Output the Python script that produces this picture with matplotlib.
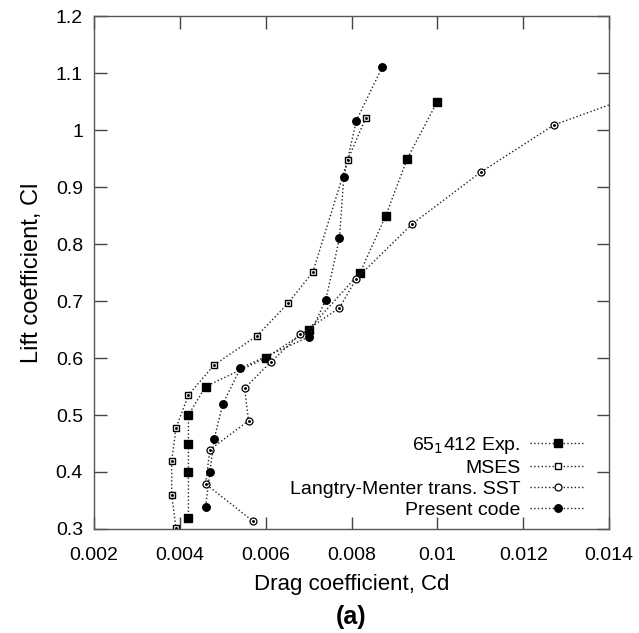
import matplotlib
matplotlib.use('Agg')
import matplotlib.pyplot as plt

plt.rcParams['font.family'] = ['Liberation Sans', 'DejaVu Sans']

# data
exp_cd = [0.0100, 0.0093, 0.0088, 0.0082, 0.0070, 0.0060, 0.0046, 0.0042, 0.0042, 0.0042, 0.0042]
exp_cl = [1.05, 0.95, 0.85, 0.75, 0.65, 0.60, 0.55, 0.50, 0.45, 0.40, 0.32]

mses_cd = [0.00833, 0.00791, 0.0071, 0.00652, 0.0058, 0.0048, 0.0042, 0.00391, 0.00381, 0.00381, 0.00391]
mses_cl = [1.021, 0.947, 0.751, 0.696, 0.639, 0.588, 0.535, 0.477, 0.419, 0.360, 0.302]

lm_cd = [0.0155, 0.01272, 0.01101, 0.00941, 0.00811, 0.00772, 0.00681, 0.00612, 0.00551, 0.0056, 0.0047, 0.0046, 0.0057]
lm_cl = [1.085, 1.009, 0.926, 0.835, 0.739, 0.688, 0.642, 0.593, 0.547, 0.490, 0.439, 0.379, 0.314]

pc_cd = [0.00872, 0.00811, 0.00782, 0.00772, 0.0074, 0.0070, 0.00541, 0.0050, 0.0048, 0.0047, 0.0046]
pc_cl = [1.111, 1.016, 0.918, 0.810, 0.702, 0.637, 0.582, 0.519, 0.458, 0.400, 0.339]

labels = ['65$_1$412 Exp.', 'MSES', 'Langtry-Menter trans. SST', 'Present code']

fig = plt.figure(figsize=(6.39, 6.33), dpi=100)
ax = fig.add_axes([0.1471, 0.1643, 0.806, 0.8104])

lkw = dict(color='#222222', ls=':', lw=1.0)
ax.plot(exp_cd, exp_cl, marker='s', ms=5.4, mfc='black', mec='black', label=labels[0], **lkw)
ax.plot(mses_cd, mses_cl, marker='s', ms=5.0, mfc='white', mec='black', mew=1.0, label=labels[1], **lkw)
ax.plot(lm_cd, lm_cl, marker='o', ms=5.0, mfc='white', mec='black', mew=0.9, label=labels[2], **lkw)
ax.plot(pc_cd, pc_cl, marker='o', ms=5.4, mfc='black', mec='black', label=labels[3], **lkw)
# small centre dots of the open symbols
ax.plot(mses_cd, mses_cl, ls='none', marker='o', ms=1.1, color='black')
ax.plot(lm_cd, lm_cl, ls='none', marker='o', ms=1.1, color='black')

ax.set_xlim(0.002, 0.014)
ax.set_ylim(0.3, 1.2)
ax.set_xticks([0.002, 0.004, 0.006, 0.008, 0.01, 0.012, 0.014])
ax.set_xticklabels(['0.002', '0.004', '0.006', '0.008', '0.01', '0.012', '0.014'])
ax.set_yticks([0.3, 0.4, 0.5, 0.6, 0.7, 0.8, 0.9, 1.0, 1.1, 1.2])
ax.set_yticklabels(['0.3', '0.4', '0.5', '0.6', '0.7', '0.8', '0.9', '1', '1.1', '1.2'])
ax.tick_params(direction='in', length=9, width=1, top=True, right=True,
               labelsize=14, color='#444444')
ax.tick_params(axis='x', pad=13)
ax.tick_params(axis='y', pad=8)
for s in ax.spines.values():
    s.set_color('#555555')
    s.set_linewidth(1.0)

ax.set_xlabel('Drag coefficient, Cd', fontsize=16, labelpad=7)
ax.set_ylabel('Lift coefficient, Cl', fontsize=17, labelpad=9)

leg = ax.legend(loc='lower right', frameon=False, markerfirst=False, fontsize=14,
                handlelength=2.8, handletextpad=0.5, labelspacing=0.17,
                borderpad=0, borderaxespad=0, bbox_to_anchor=(0.953, 0.02))
for t in leg.get_texts():
    t.set_ha('right')

fig.text(0.549, 0.026, '(a)', fontsize=18, fontweight='bold', ha='center', va='center')

fig.savefig('out.png', dpi=100)
